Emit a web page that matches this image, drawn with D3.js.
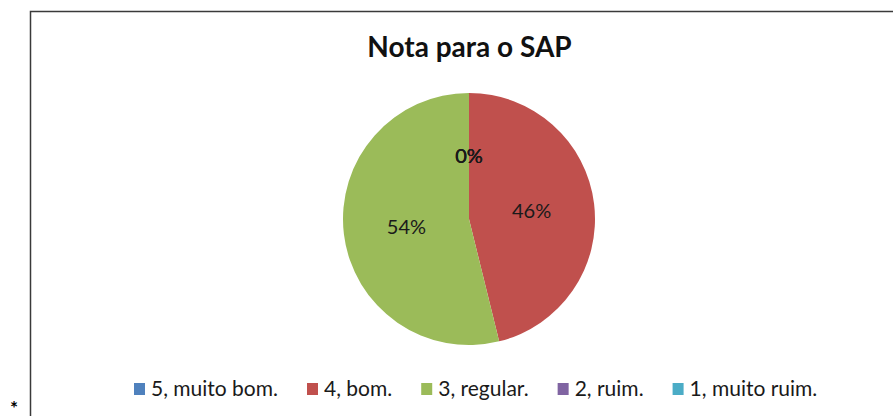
<!DOCTYPE html>
<html>
<head>
<meta charset="utf-8">
<script src="https://cdn.jsdelivr.net/npm/d3@7"></script>
<style>
  body { margin: 0; background: #fff; }
  svg { display: block; font-family: Lato, "Open Sans", sans-serif; }
</style>
</head>
<body>
<div id="chart"></div>
<script>
const w = 893, h = 416;

// data
const categories = ['5, muito bom.', '4, bom.', '3, regular.', '2, ruim.', '1, muito ruim.'];
const values = [0, 6, 7, 0, 0];
const colors = ['#4F81BD', '#C0504D', '#9BBB59', '#8064A2', '#4BACC6'];
const title = 'Nota para o SAP';

const svg = d3.select('#chart').append('svg').attr('width', w).attr('height', h);

// frame
svg.append('rect')
  .attr('x', 30.5).attr('y', 11.5)
  .attr('width', w).attr('height', h)
  .attr('fill', 'none').attr('stroke', '#3a3a3a').attr('stroke-width', 1.5);

svg.append('text')
  .attr('x', 14).attr('y', 415)
  .attr('text-anchor', 'middle')
  .style('font-size', '19px').style('font-weight', 'bold')
  .text('*');

svg.append('text')
  .attr('x', 469.5).attr('y', 57)
  .attr('text-anchor', 'middle')
  .style('font-size', '28px').style('font-weight', 'bold')
  .attr('fill', '#111')
  .text(title);

const cx = 469, cy = 219, r = 126;
const total = d3.sum(values);
const color = d3.scaleOrdinal().domain(categories).range(colors);

const pie = d3.pie().sort(null).value(d => d.v);
const arcs = pie(categories.map((c, i) => ({ name: c, v: values[i] })));
const arc = d3.arc().innerRadius(0).outerRadius(r);
const labelArc = d3.arc().innerRadius(r * 0.5).outerRadius(r * 0.5);

const g = svg.append('g').attr('transform', `translate(${cx},${cy})`);
g.selectAll('path')
  .data(arcs)
  .join('path')
  .attr('d', arc)
  .attr('fill', d => color(d.data.name));

// zero slices pile up their labels at the top
g.selectAll('.lbl')
  .data(arcs)
  .join('text')
  .attr('class', 'lbl')
  .attr('transform', d => {
    const [x, y] = labelArc.centroid(d);
    return d.data.v === 0 ? `translate(0,${-r * 0.5})` : `translate(${x},${y})`;
  })
  .attr('dy', '0.35em')
  .attr('text-anchor', 'middle')
  .style('font-size', '20px')
  .attr('fill', '#1a1a1a')
  .text(d => Math.round(d.data.v / total * 100) + '%');

// legend
const legend = svg.append('g').attr('transform', 'translate(134,389)');
let lx = 0;
categories.forEach((c, i) => {
  const item = legend.append('g').attr('transform', `translate(${lx},0)`);
  item.append('rect')
    .attr('x', 0).attr('y', -6).attr('width', 11).attr('height', 12)
    .attr('fill', color(c));
  const t = item.append('text')
    .attr('x', 17).attr('y', 0).attr('dy', '0.35em')
    .style('font-size', '21px')
    .attr('fill', '#1a1a1a')
    .text(c);
  lx += 17 + t.node().getComputedTextLength() + 29;
});
</script>
</body>
</html>
